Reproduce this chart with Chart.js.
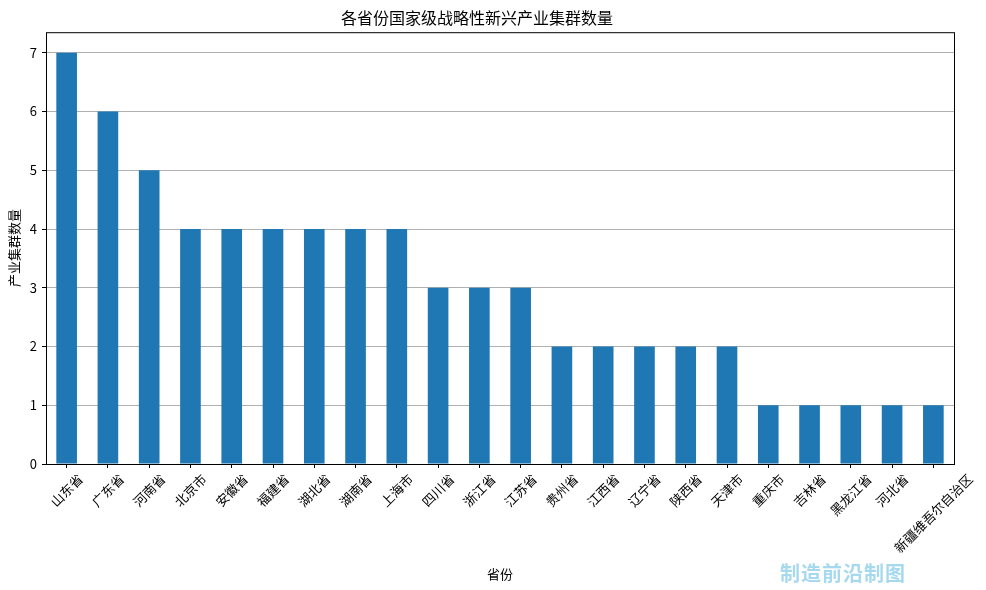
<!DOCTYPE html>
<html>
<head>
<meta charset="utf-8">
<script src="https://cdn.jsdelivr.net/npm/chart.js@4/dist/chart.umd.min.js"></script>
<style>
  html, body { margin: 0; padding: 0; background: #fff; }
  #wrap { position: relative; width: 986px; height: 590px; }
  #watermark {
    position: absolute; left: 780px; top: 558px;
    font-family: "Noto Sans CJK SC", sans-serif; font-weight: bold;
    font-size: 20px; color: #a6d9ee; letter-spacing: 1px;
  }
</style>
</head>
<body>
<div id="wrap">
  <canvas id="clusterChart" width="986" height="590"></canvas>
  <div id="watermark">制造前沿制图</div>
</div>
<script>
const provinces = ['山东省', '广东省', '河南省', '北京市', '安徽省', '福建省', '湖北省', '湖南省', '上海市',
    '四川省', '浙江省', '江苏省', '贵州省', '江西省', '辽宁省', '陕西省', '天津市',
    '重庆市', '吉林省', '黑龙江省', '河北省', '新疆维吾尔自治区'];
const clusterCounts = [7, 6, 5, 4, 4, 4, 4, 4, 4, 3, 3, 3, 2, 2, 2, 2, 2, 1, 1, 1, 1, 1];
const yTicks = [0, 1, 2, 3, 4, 5, 6, 7];

const FONT = '"Noto Sans CJK SC", "DejaVu Sans", sans-serif';
Chart.defaults.font.family = FONT;
Chart.defaults.color = '#000';

// 四周黑色边框 + 旋转45度居中的x轴标签（matplotlib风格）
const framePlugin = {
    id: 'frame',
    afterDraw(chart) {
        const { ctx, chartArea: a, scales } = chart;
        ctx.save();
        ctx.strokeStyle = '#000';
        ctx.lineWidth = 1;
        ctx.strokeRect(a.left + 0.5, a.top + 0.5, a.right - a.left, a.bottom - a.top);

        ctx.font = '13px ' + FONT;
        ctx.fillStyle = '#000';
        ctx.textAlign = 'center';
        ctx.textBaseline = 'middle';
        const s = Math.SQRT1_2;
        provinces.forEach((name, i) => {
            const x = scales.x.getPixelForValue(i);
            const w = ctx.measureText(name).width;
            const h = 13;
            const y = a.bottom + 8 + (w + h) * s / 2;
            ctx.save();
            ctx.translate(x, y);
            ctx.rotate(-Math.PI / 4);
            ctx.fillText(name, 0, 0);
            ctx.restore();
        });
        ctx.restore();
    }
};

new Chart(document.getElementById('clusterChart'), {
    type: 'bar',
    data: {
        labels: provinces,
        datasets: [{
            data: clusterCounts,
            backgroundColor: '#1f77b4',
            barPercentage: 0.5,
            categoryPercentage: 1.0
        }]
    },
    options: {
        responsive: false,
        animation: false,
        layout: { padding: { left: 0, right: 32, top: 0, bottom: 0 } },
        plugins: {
            legend: { display: false },
            tooltip: { enabled: false },
            title: {
                display: true,
                text: '各省份国家级战略性新兴产业集群数量',
                font: { size: 16, weight: 'normal' },
                color: '#000',
                padding: { top: 8, bottom: 5 }
            }
        },
        scales: {
            x: {
                offset: true,
                grid: { drawOnChartArea: false, tickColor: '#000', tickLength: 4, offset: false },
                border: { display: false },
                ticks: { display: false, autoSkip: false },
                title: { display: true, text: '省份', font: { size: 13 }, padding: { top: 0, bottom: 8 } },
                afterFit(scale) { scale.height = 126; }
            },
            y: {
                min: 0,
                max: 7.35,
                afterBuildTicks(axis) { axis.ticks = yTicks.map(v => ({ value: v })); },
                grid: { color: '#b0b0b0', tickColor: '#000', tickLength: 4 },
                border: { display: false },
                ticks: { font: { size: 13 }, padding: 5 },
                title: { display: true, text: '产业集群数量', font: { size: 13 }, padding: { top: 6, bottom: 0 } },
                afterFit(scale) { scale.width = 46; }
            }
        }
    },
    plugins: [framePlugin]
});
</script>
</body>
</html>
